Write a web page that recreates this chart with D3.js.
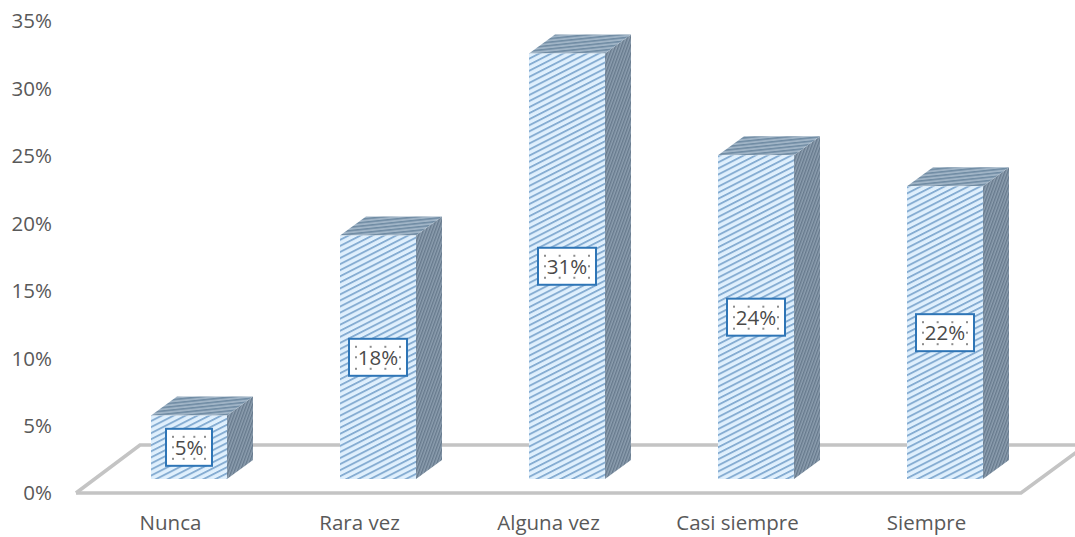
<!DOCTYPE html>
<html><head><meta charset="utf-8">
<style>html,body{margin:0;padding:0;background:#fff}svg{display:block}text{font-family:"Open Sans",Lato,sans-serif;fill:#595959}</style>
<script src="https://cdn.jsdelivr.net/npm/d3@7"></script></head><body>
<script>
const categories = ["Nunca","Rara vez","Alguna vez","Casi siempre","Siempre"];
const values = [4.7,18.05,31.55,24,21.7];
const labels = ["5%","18%","31%","24%","22%"];
const ticks = [0,5,10,15,20,25,30,35];

const W=1075,H=537;
const svg=d3.select("body").append("svg").attr("width",W).attr("height",H);
const y=d3.scaleLinear().domain([0,35]).range([493,21]);
const x=d3.scaleBand().domain(categories).range([76,1021]);
const barW=76, dx=26, dy=19, baseLift=14, barShift=18.5;

const defs=svg.append("defs");
function pat(id,bg,fg,angle,size,sw){
  const p=defs.append("pattern").attr("id",id).attr("patternUnits","userSpaceOnUse")
    .attr("width",size).attr("height",size).attr("patternTransform",`rotate(${angle})`);
  p.append("rect").attr("width",size).attr("height",size).attr("fill",bg);
  p.append("rect").attr("width",size).attr("height",sw).attr("fill",fg);
}
pat("front","#e0f0fd","#86add2",-27,5.4,1.9);
pat("top","#a0b4c6","#6f8ba3",-6,3.4,1.5);
pat("side","#8c9eaf","#66798c",-70,2.8,1.3);
defs.append("filter").attr("id","soft").attr("x","-5%").attr("y","-5%").attr("width","110%").attr("height","110%")
  .append("feGaussianBlur").attr("stdDeviation",0.55);

// floor
const b0=y(0), bk=445;
svg.append("path").attr("fill","none").attr("stroke","#c4c4c4").attr("stroke-width",3.6)
  .attr("d",d3.line()([[76,b0],[140,bk],[1090,bk]]));
svg.append("path").attr("fill","none").attr("stroke","#c4c4c4").attr("stroke-width",3.6)
  .attr("d",d3.line()([[76,b0],[1021,b0],[1085,bk+1]]));

// axis labels
svg.selectAll(".yt").data(ticks).join("text").attr("class","yt")
  .attr("x",52).attr("y",d=>y(d)+2).attr("text-anchor","end").attr("dominant-baseline","middle")
  .attr("font-size",20.5).text(d=>d+"%");
svg.selectAll(".xt").data(categories).join("text").attr("class","xt")
  .attr("x",d=>x(d)+x.bandwidth()/2).attr("y",525).attr("text-anchor","middle")
  .attr("dominant-baseline","middle").attr("font-size",20.5).text(d=>d);

// bars
const g=svg.selectAll(".bar").data(categories.map((c,i)=>({c,v:values[i],l:labels[i]}))).join("g").attr("class","bar");
const L=d=>x(d.c)+x.bandwidth()/2+barShift-barW/2, B=()=>b0-baseLift, T=d=>y(d.v)-baseLift;
const line=d3.line();
const faces=g.append("g").attr("filter","url(#soft)");
faces.append("path").attr("fill","url(#side)").attr("d",d=>line([[L(d)+barW,B()],[L(d)+barW+dx,B()-dy],[L(d)+barW+dx,T(d)-dy],[L(d)+barW,T(d)]])+"Z");
faces.append("path").attr("fill","url(#top)").attr("d",d=>line([[L(d),T(d)],[L(d)+dx,T(d)-dy],[L(d)+barW+dx,T(d)-dy],[L(d)+barW,T(d)]])+"Z");
faces.append("rect").attr("fill","url(#front)").attr("x",L).attr("y",T).attr("width",barW).attr("height",d=>B()-T(d));

// data labels
g.each(function(d){
  const s=d3.select(this), cx=L(d)+barW/2, cy=(T(d)+B())/2;
  const w=d.l.length>2?58:46, h=37;
  s.append("rect").attr("x",cx-w/2).attr("y",cy-h/2).attr("width",w).attr("height",h)
    .attr("fill","#fff").attr("stroke","#2e75b6").attr("stroke-width",2);
  const ix=[-w/2+7,-w/2+7+(w-14)/3,-w/2+7+2*(w-14)/3,w/2-7];
  const pts=[];
  ix.forEach(a=>{pts.push([a,-h/2+8]);pts.push([a,h/2-7]);});
  pts.push([-w/2+7,0],[w/2-7,0]);
  s.selectAll(".dot").data(pts).join("rect").attr("class","dot")
    .attr("x",p=>cx+p[0]-1).attr("y",p=>cy+p[1]-1).attr("width",2).attr("height",2).attr("fill","#8c8c8c");
  s.append("text").attr("x",cx).attr("y",cy+2).attr("text-anchor","middle").attr("dominant-baseline","middle")
    .attr("font-size",20.5).style("fill","#4a4a4a").text(d.l);
});
</script></body></html>
